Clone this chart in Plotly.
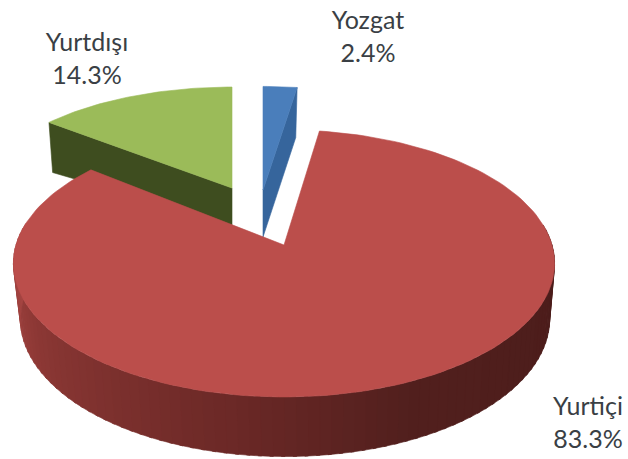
import math
import plotly.graph_objects as go

categories = ["Yozgat", "Yurtiçi", "Yurtdışı"]
shares = [2.4, 83.3, 14.3]

FACE = {"Yozgat": "#4a7ebb", "Yurtiçi": "#bb4e4b", "Yurtdışı": "#9bbb59"}
WALL = {"Yozgat": "#36659c", "Yurtdışı": "#3e4d1f"}

# view model of each pulled slice: top apex, bottom apex, perspective radii
VIEW = {
    "Yozgat":   dict(top=(263, 190), bot=(263, 237), a=254, b=116, k=.12, ab=.96, bb=.97),
    "Yurtiçi":  dict(top=(284, 245), bot=(285, 300), a=268, b=131, k=.138, ab=.978, bb=1.03),
    "Yurtdışı": dict(top=(232, 188), bot=(232, 225), a=252, b=113.5, k=.124, ab=.98, bb=.8),
}
LABEL_POS = {"Yozgat": (368, 39), "Yurtiçi": (588, 425), "Yurtdışı": (87, 61)}

total = sum(shares)
spans, acc = {}, 0.0
for c, s in zip(categories, shares):
    spans[c] = (acc / total * 2 * math.pi, (acc + s) / total * 2 * math.pi)
    acc += s


def project(view, ang, bottom=False):
    ax, ay = view["bot"] if bottom else view["top"]
    a = view["a"] * (view["ab"] if bottom else 1)
    b = view["b"] * (view["bb"] if bottom else 1)
    u, v = math.sin(ang), math.cos(ang)
    d = 1 + view["k"] * v
    return ax + a * u / d, ay - b * v / d


def arc(view, t0, t1, n, bottom=False):
    return [project(view, t0 + (t1 - t0) * i / n, bottom) for i in range(n + 1)]


fig = go.Figure()


def poly(pts, color):
    fig.add_trace(go.Scatter(
        x=[p[0] for p in pts] + [pts[0][0]], y=[p[1] for p in pts] + [pts[0][1]],
        mode="lines", fill="toself", fillcolor=color,
        line=dict(color=color, width=0.6), hoverinfo="skip", showlegend=False))


# green slice: cut wall then top face
c = "Yurtdışı"
v = VIEW[c]; t0, t1 = spans[c]
poly([v["top"], project(v, t0), project(v, t0, True), v["bot"]], WALL[c])
poly([v["top"]] + arc(v, t0, t1, 40), FACE[c])

# blue slice
c = "Yozgat"
v = VIEW[c]; t0, t1 = spans[c]
poly([v["top"], project(v, t1), project(v, t1, True), v["bot"]], WALL[c])
poly([v["top"]] + arc(v, t0, t1, 8), FACE[c])

# red slice: outer wall with horizontal shading, then top face
c = "Yurtiçi"
v = VIEW[c]; t0, t1 = spans[c]
STOPS = [(0, (0x4a, 0x1c, 0x1a)), (.38, (0x52, 0x20, 0x1e)), (.55, (0x6c, 0x29, 0x27)),
         (.8, (0x8c, 0x38, 0x35)), (1, (0xad, 0x4a, 0x47))]


def shade(f):
    for (p0, c0), (p1, c1) in zip(STOPS, STOPS[1:]):
        if f <= p1:
            w = (f - p0) / (p1 - p0)
            return "rgb(%d,%d,%d)" % tuple(c0[i] + (c1[i] - c0[i]) * w for i in range(3))
    return "rgb(173,74,71)"


n = 90
wall_from, wall_to = math.pi * .45, math.pi * 1.55
for i in range(n):
    a0 = wall_from + (wall_to - wall_from) * i / n
    a1 = wall_from + (wall_to - wall_from) * (i + 1.3) / n
    poly([project(v, a0), project(v, a1), project(v, a1, True), project(v, a0, True)], shade(i / (n - 1)))
poly([v["top"]] + arc(v, t0, t1, 160), FACE[c])

# data labels
for c, s in zip(categories, shares):
    lx, ly = LABEL_POS[c]
    fig.add_trace(go.Scatter(
        x=[lx], y=[ly], mode="text", text=[f"{c}<br>{s:.1f}%"], textposition="middle center",
        textfont=dict(family="Lato, Carlito, sans-serif", size=25, color="#3a3f45"),
        hoverinfo="skip", showlegend=False))

fig.update_layout(
    width=628, height=459, margin=dict(l=0, r=0, t=0, b=0),
    paper_bgcolor="white", plot_bgcolor="white", showlegend=False,
    xaxis=dict(range=[0, 628], visible=False, fixedrange=True),
    yaxis=dict(range=[459, 0], visible=False, fixedrange=True),
)
fig.write_html("out.html", config=dict(displayModeBar=False),
               post_script="document.body.style.margin='0';document.documentElement.style.overflow='hidden';")
